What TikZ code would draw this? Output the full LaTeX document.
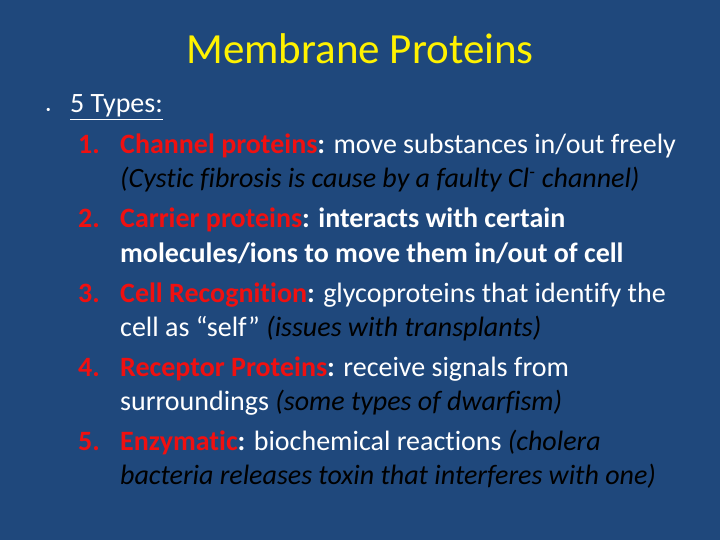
\documentclass[tikz,border=0pt]{standalone}
\usepackage{fontspec}
\setmainfont[Ligatures=NoCommon]{Carlito}
\usepackage{tikz}
\definecolor{slidebg}{HTML}{1F487C}
\definecolor{termred}{HTML}{F01010}
\tikzstyle{line}=[anchor=base west,inner sep=0pt,text=white,font=\fontsize{28}{32}\selectfont]
\tikzstyle{num}=[line,text=termred,font=\fontsize{28}{32}\selectfont\bfseries]
\newcommand{\term}[1]{\textcolor{termred}{\bfseries #1}\textbf{:}}
\newcommand{\note}[1]{\textcolor{black}{\itshape #1}}
\begin{document}
\begin{tikzpicture}[x=1pt,y=-1pt]
\fill[slidebg] (0,0) rectangle (720,540);
\useasboundingbox (0,0) rectangle (720,540);
% title
\node[anchor=base,inner sep=0pt,text=yellow,font=\fontsize{43}{48}\selectfont] (title) at (360,64) {Membrane Proteins};
% bullet
\node[line] (bul) at (46,113) {\small\textbullet};
\node[line] (types) at (70,113) {\underline{5 Types:}};
% items
\node[num] (n1) at (78,154) {1.};
\node[line] (l1a) at (120,154) {\term{Channel proteins} move substances in/out freely};
\node[line] (l1b) at (120,188) {\note{(Cystic fibrosis is cause by a faulty Cl\textsuperscript{-} channel)}};
\node[num] (n2) at (78,228) {2.};
\node[line] (l2a) at (120,228) {\bfseries\term{Carrier proteins} interacts with certain};
\node[line] (l2b) at (120,262) {\bfseries molecules/ions to move them in/out of cell};
\node[num] (n3) at (78,302) {3.};
\node[line] (l3a) at (120,302) {\term{Cell Recognition} glycoproteins that identify the};
\node[line] (l3b) at (120,336) {cell as “self” \note{(issues with transplants)}};
\node[num] (n4) at (78,376) {4.};
\node[line] (l4a) at (120,376) {\term{Receptor Proteins} receive signals from};
\node[line] (l4b) at (120,410) {surroundings \note{(some types of dwarfism)}};
\node[num] (n5) at (78,450) {5.};
\node[line] (l5a) at (120,450) {\term{Enzymatic} biochemical reactions \note{(cholera}};
\node[line] (l5b) at (120,484) {\note{bacteria releases toxin that interferes with one)}};
\end{tikzpicture}
\end{document}
